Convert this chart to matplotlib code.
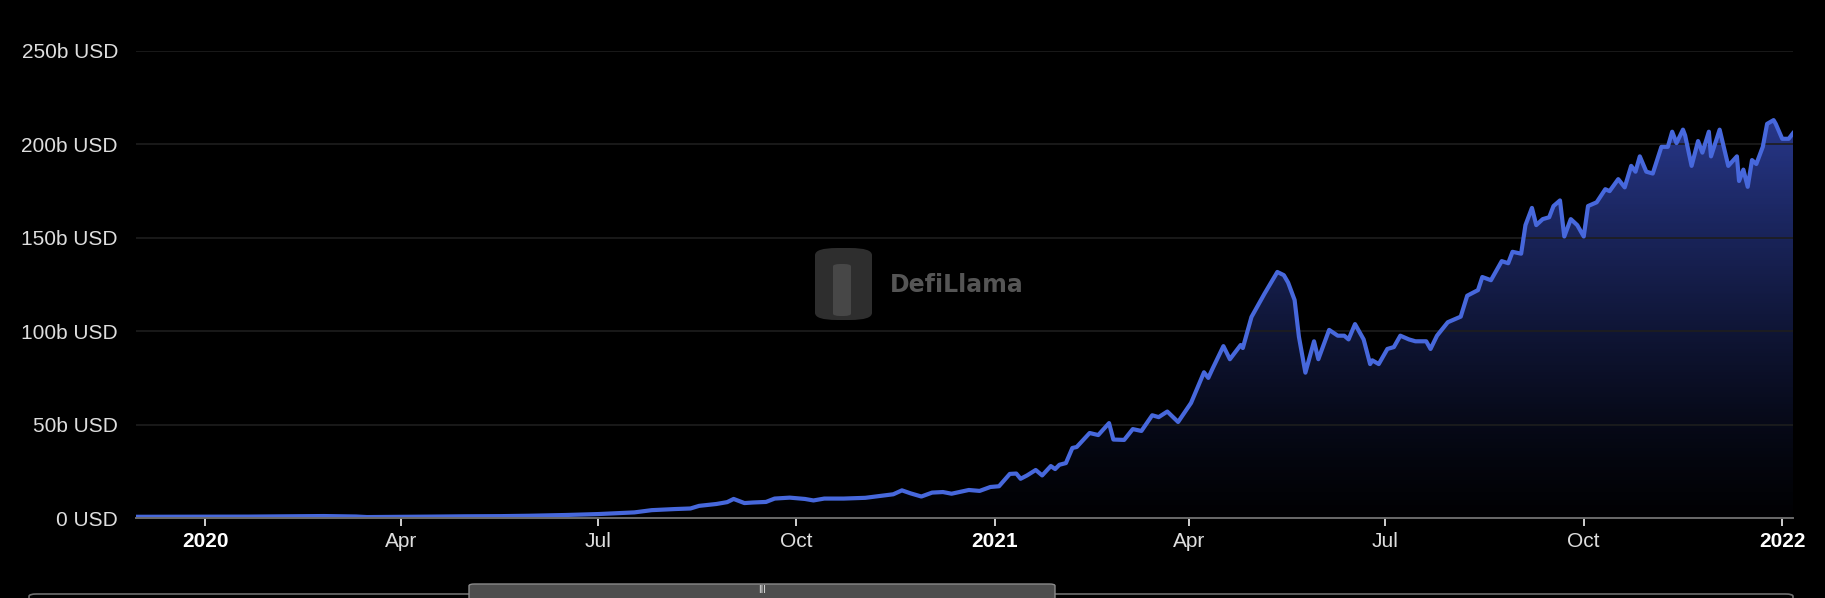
import numpy as np
import pandas as pd
import matplotlib
matplotlib.use("Agg")
from matplotlib import pyplot as plt
from matplotlib.patches import FancyBboxPatch
import matplotlib.dates as mdates

plt.rcParams['font.family'] = ['Liberation Sans', 'DejaVu Sans']

# total value locked, billions USD; x = days since 2020-01-01
base_date = pd.Timestamp("2020-01-01")
day_offsets = [-32, -15, 0, 20, 40, 55, 70, 75, 90, 105, 120, 137, 150, 167, 182,
               199, 207, 218, 225, 229, 237, 242, 245, 250, 254, 260, 264, 271, 278,
               282, 287, 296, 306, 313, 319, 323, 327, 332, 337, 342, 346, 354, 359,
               364, 368, 373, 376, 378, 381, 385, 388, 392, 394, 396, 399, 402, 404,
               410, 414, 419, 421, 426, 430, 434, 439, 442, 446, 451, 457, 463, 465,
               467, 472, 475, 480, 481, 485, 491, 497, 500, 502, 505, 507, 510, 514,
               516, 521, 525, 528, 530, 533, 537, 540, 541, 544, 548, 551, 554, 558,
               561, 566, 568, 571, 576, 582, 585, 590, 592, 596, 601, 604, 606, 610,
               612, 615, 617, 620, 623, 625, 628, 630, 633, 636, 639, 641, 645, 649,
               651, 655, 658, 661, 663, 665, 668, 671, 675, 678, 680, 682, 685, 686,
               689, 692, 694, 697, 698, 702, 706, 710, 711, 713, 715, 717, 719, 722,
               724, 727, 728, 731, 734, 736]
tvl_b = [0.65, 0.67, 0.68, 0.75, 0.95, 1.05, 0.8, 0.5, 0.6, 0.75, 0.9, 1.0, 1.2, 1.6, 2.1,
         3.0, 4.2, 4.8, 5.1, 6.5, 7.5, 8.5, 10.2, 8.0, 8.3, 8.6, 10.4, 10.9, 10.2,
         9.4, 10.4, 10.4, 10.8, 11.8, 12.7, 14.8, 13.2, 11.5, 13.6, 13.9, 13.0, 15.0, 14.5,
         16.6, 17.0, 23.6, 23.8, 21.0, 22.8, 25.7, 22.8, 27.8, 26.2, 28.5, 29.4, 37.5, 38.0,
         45.5, 44.4, 50.8, 42.0, 41.8, 47.6, 46.6, 55.0, 54.0, 57.0, 51.4, 61.6, 78.0, 75.0,
         80.0, 92.0, 85.0, 92.6, 91.0, 107.6, 120.0, 131.7, 130.0, 126.0, 116.7, 97.0, 77.8, 94.6,
         85.0, 100.7, 97.6, 97.6, 95.6, 103.8, 95.6, 82.4, 84.4, 82.4, 90.5, 91.5, 97.6, 95.6,
         94.6, 94.6, 90.5, 97.6, 104.8, 107.8, 119.0, 122.0, 129.0, 127.3, 137.5, 136.4, 142.5, 141.5,
         156.8, 166.0, 156.8, 160.0, 161.0, 167.0, 170.0, 150.7, 160.0, 156.8, 150.7, 167.0, 169.0, 176.0,
         175.0, 181.4, 177.0, 188.5, 185.4, 193.6, 185.4, 184.4, 198.7, 198.7, 206.8, 200.7, 207.9, 204.8,
         188.5, 201.8, 195.6, 206.8, 193.6, 207.9, 188.5, 193.6, 180.4, 186.5, 177.3, 191.6, 189.5, 198.7,
         211.0, 213.0, 211.0, 203.0, 203.0, 206.0]

y_ticks = [0, 50, 100, 150, 200, 250]
y_labels = ["0 USD", "50b USD", "100b USD", "150b USD", "200b USD", "250b USD"]
x_tick_dates = ["2020-01-01", "2020-04-01", "2020-07-01", "2020-10-01", "2021-01-01",
                "2021-04-01", "2021-07-01", "2021-10-01", "2022-01-01"]
x_labels = ["2020", "Apr", "Jul", "Oct", "2021", "Apr", "Jul", "Oct", "2022"]

dates = base_date + pd.to_timedelta(day_offsets, unit="D")
x = mdates.date2num(dates.to_pydatetime())

W, H = 1825, 598
fig = plt.figure(figsize=(W / 100, H / 100), dpi=100, facecolor="black")
ax = fig.add_axes([136 / W, (H - 518) / H, (1793 - 136) / W, (518 - 51) / H])
ax.set_facecolor("black")

line_color = "#4768dc"

# gradient fill under the curve
poly = ax.fill_between(x, tvl_b, 0, facecolor="none", edgecolor="none")
grad = np.linspace(0, 1, 256).reshape(-1, 1)
rgba = np.zeros((256, 1, 4))
rgba[..., 0] = 0.22
rgba[..., 1] = 0.31
rgba[..., 2] = 0.78
rgba[..., 3] = 0.02 + 0.68 * grad[:, 0:1] ** 1.3
img = ax.imshow(rgba, aspect="auto", origin="lower",
                extent=[x[0], x[-1], 0, max(tvl_b)], zorder=1)
img.set_clip_path(poly.get_paths()[0], transform=ax.transData)

ax.plot(x, tvl_b, color=line_color, lw=3.0, zorder=3, solid_joinstyle="round")

ax.set_xlim(x[0], x[-1])
ax.set_ylim(0, 250)

ax.set_yticks(y_ticks)
ax.set_yticklabels(y_labels)
ax.grid(axis="y", color="#1e1e1e", lw=1.2, zorder=0)
ax.tick_params(axis="y", length=0, pad=13, labelsize=15, labelcolor="#dedede")

tick_x = mdates.date2num(pd.to_datetime(x_tick_dates).to_pydatetime())
ax.set_xticks(tick_x)
ax.set_xticklabels(x_labels)
ax.tick_params(axis="x", length=6, width=1.4, color="#d0d0d0", pad=4,
               labelsize=15, labelcolor="#dedede")
for lab in ax.get_xticklabels():
    if lab.get_text().isdigit():
        lab.set_fontweight("bold")
        lab.set_color("white")

for side in ["top", "right", "left"]:
    ax.spines[side].set_visible(False)
ax.spines["bottom"].set_color("#6a6a6a")
ax.spines["bottom"].set_linewidth(1.4)
ax.spines["bottom"].set_zorder(4)

# watermark
fig.patches.append(FancyBboxPatch((815 / W, (H - 320) / H), 57 / W, 72 / H,
                                  boxstyle="round,pad=0,rounding_size=0.012",
                                  transform=fig.transFigure, facecolor="#2e2e2e",
                                  edgecolor="none", zorder=0))
fig.patches.append(FancyBboxPatch((833 / W, (H - 316) / H), 18 / W, 52 / H,
                                  boxstyle="round,pad=0,rounding_size=0.004",
                                  transform=fig.transFigure, facecolor="#474747",
                                  edgecolor="none", zorder=0))
fig.text(890 / W, (H - 285) / H, "DefiLlama", color="#555555", fontsize=17,
         fontweight="bold", family=["DejaVu Sans"], va="center", ha="left")

# range slider at the bottom
fig.patches.append(FancyBboxPatch((29 / W, -4 / H), (1793 - 29) / W, 8 / H,
                                  boxstyle="round,pad=0,rounding_size=0.004",
                                  transform=fig.transFigure, facecolor="black",
                                  edgecolor="#6e6e6e", lw=1.2))
fig.patches.append(FancyBboxPatch((469 / W, -6 / H), (1055 - 469) / W, 20 / H,
                                  boxstyle="round,pad=0,rounding_size=0.003",
                                  transform=fig.transFigure, facecolor="#4d4d4d",
                                  edgecolor="#8a8a8a", lw=1.0))
fig.text(762 / W, (H - 590) / H, "III", color="#e0e0e0", fontsize=7,
         ha="center", va="center")

fig.savefig("out.png", dpi=100, facecolor="black")
